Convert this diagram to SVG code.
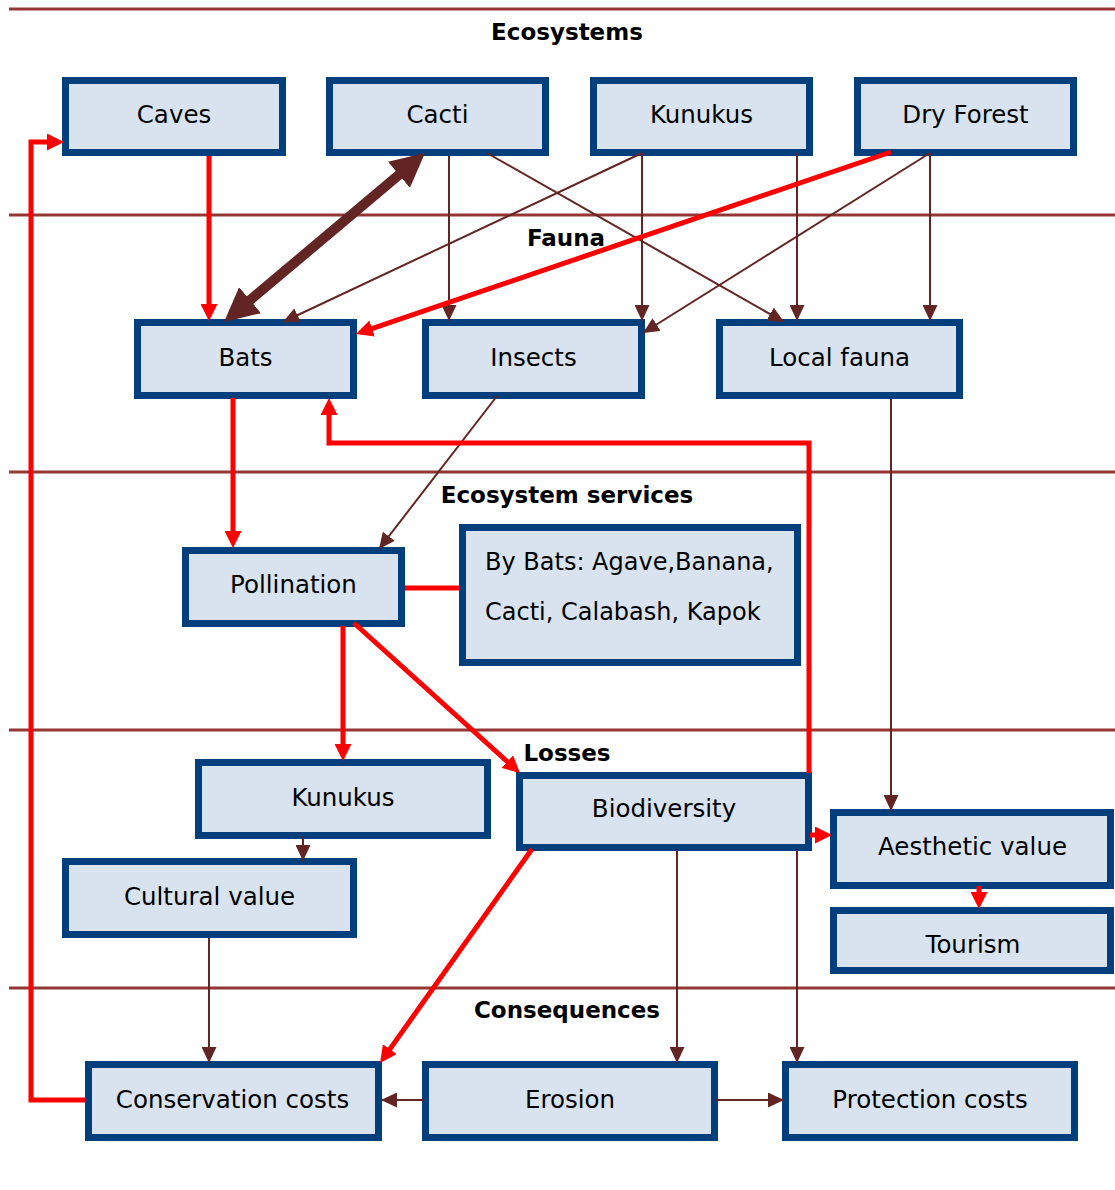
<svg xmlns="http://www.w3.org/2000/svg" width="1115" height="1190" viewBox="0 0 1115 1190">
<style>
.sep{stroke:#943634;stroke-width:3;fill:none}
.sec{font-family:"DejaVu Sans","Liberation Sans",sans-serif;font-size:23px;font-weight:bold;fill:#000;text-anchor:middle}
.box{fill:#D8E3EF;stroke:#023F7C;stroke-width:7}
.lbl{font-family:"DejaVu Sans","Liberation Sans",sans-serif;font-size:24.5px;fill:#000;text-anchor:middle}
.lbl2{font-family:"DejaVu Sans","Liberation Sans",sans-serif;font-size:24px;fill:#000}
.br{stroke:#632523;stroke-width:2;fill:none;marker-end:url(#ab)}
.rd{stroke:#FF0000;stroke-width:5;fill:none;marker-end:url(#ar)}
.rdn{stroke:#FF0000;stroke-width:5;fill:none}
.thick{stroke:#632523;stroke-width:10;fill:none;marker-start:url(#at);marker-end:url(#at)}
</style>
<defs>
<marker id="ab" markerUnits="userSpaceOnUse" markerWidth="16" markerHeight="15" refX="16" refY="7.5" orient="auto"><path d="M0,0 L16,7.5 L0,15 z" fill="#632523"/></marker>
<marker id="ar" markerUnits="userSpaceOnUse" markerWidth="17" markerHeight="17" refX="11" refY="8.5" orient="auto"><path d="M0,0 L17,8.5 L0,17 z" fill="#FF0000"/></marker>
<marker id="at" markerUnits="userSpaceOnUse" markerWidth="34" markerHeight="34" refX="22" refY="17" orient="auto-start-reverse"><path d="M0,0 L34,17 L0,34 z" fill="#632523"/></marker>
</defs>
<rect width="1115" height="1190" fill="#fff"/>
<g id="separators">
<line class="sep" x1="9" y1="9" x2="1115" y2="9"/>
<line class="sep" x1="9" y1="215" x2="1115" y2="215"/>
<line class="sep" x1="9" y1="472" x2="1115" y2="472"/>
<line class="sep" x1="9" y1="730" x2="1115" y2="730"/>
<line class="sep" x1="9" y1="988" x2="1115" y2="988"/>
</g>
<g id="sections">
<text class="sec" x="567" y="40">Ecosystems</text>
<text class="sec" x="566" y="246">Fauna</text>
<text class="sec" x="567" y="503">Ecosystem services</text>
<text class="sec" x="567" y="761">Losses</text>
<text class="sec" x="567" y="1018">Consequences</text>
</g>
<g id="n-caves"><rect class="box" x="65.5" y="80.5" width="217" height="72"/><text class="lbl" x="174" y="123">Caves</text></g>
<g id="n-cacti"><rect class="box" x="329.5" y="80.5" width="216" height="72"/><text class="lbl" x="437.5" y="123">Cacti</text></g>
<g id="n-kunukus"><rect class="box" x="593.5" y="80.5" width="216" height="72"/><text class="lbl" x="701.5" y="123">Kunukus</text></g>
<g id="n-dryforest"><rect class="box" x="857.5" y="80.5" width="216" height="72"/><text class="lbl" x="965.5" y="123">Dry Forest</text></g>
<g id="n-bats"><rect class="box" x="137.5" y="322.5" width="216" height="73"/><text class="lbl" x="245.5" y="366">Bats</text></g>
<g id="n-insects"><rect class="box" x="425.5" y="322.5" width="216" height="73"/><text class="lbl" x="533.5" y="366">Insects</text></g>
<g id="n-localfauna"><rect class="box" x="719.5" y="322.5" width="240" height="73"/><text class="lbl" x="839.5" y="366">Local fauna</text></g>
<g id="n-pollination"><rect class="box" x="185.5" y="550.5" width="216" height="73"/><text class="lbl" x="293.5" y="593">Pollination</text></g>
<g id="n-bybats"><rect class="box" x="462.5" y="527.5" width="335" height="135"/><text class="lbl2" x="485" y="570">By Bats: Agave,Banana,</text><text class="lbl2" x="485" y="620">Cacti, Calabash, Kapok</text></g>
<g id="n-kunukus2"><rect class="box" x="198.5" y="762.5" width="289" height="73"/><text class="lbl" x="343" y="806">Kunukus</text></g>
<g id="n-cultural"><rect class="box" x="65.5" y="861.5" width="288" height="73"/><text class="lbl" x="209.5" y="905">Cultural value</text></g>
<g id="n-biodiversity"><rect class="box" x="519.5" y="775.5" width="289" height="72"/><text class="lbl" x="664" y="817">Biodiversity</text></g>
<g id="n-aesthetic"><rect class="box" x="833.5" y="812.5" width="277" height="73"/><text class="lbl" x="972.5" y="855">Aesthetic value</text></g>
<g id="n-tourism"><rect class="box" x="833.5" y="910.5" width="277" height="60"/><text class="lbl" x="973" y="953">Tourism</text></g>
<g id="n-conservation"><rect class="box" x="88.5" y="1064.5" width="290" height="73"/><text class="lbl" x="232.5" y="1108">Conservation costs</text></g>
<g id="n-erosion"><rect class="box" x="425.5" y="1064.5" width="289" height="73"/><text class="lbl" x="570" y="1108">Erosion</text></g>
<g id="n-protection"><rect class="box" x="785.5" y="1064.5" width="289" height="73"/><text class="lbl" x="930" y="1108">Protection costs</text></g>
<g id="connectors">
<line class="br" x1="449" y1="156" x2="449" y2="321"/>
<line class="br" x1="487" y1="153" x2="784" y2="322"/>
<line class="br" x1="642" y1="153" x2="283" y2="322"/>
<line class="br" x1="642" y1="153" x2="642" y2="321"/>
<line class="br" x1="797" y1="153" x2="797" y2="321"/>
<line class="br" x1="930" y1="153" x2="643" y2="333"/>
<line class="br" x1="930" y1="153" x2="930" y2="321"/>
<line class="br" x1="497" y1="396" x2="379" y2="549"/>
<line class="br" x1="303" y1="837" x2="303" y2="861"/>
<line class="br" x1="891" y1="399" x2="891" y2="811"/>
<line class="br" x1="209" y1="938" x2="209" y2="1063"/>
<line class="br" x1="677" y1="850" x2="677" y2="1063"/>
<line class="br" x1="797" y1="850" x2="797" y2="1063"/>
<line class="br" x1="424" y1="1100" x2="381" y2="1100"/>
<line class="br" x1="716" y1="1100" x2="784" y2="1100"/>
<line class="thick" x1="415.8" y1="160.7" x2="233.2" y2="314.3"/>
<line class="rd" x1="209" y1="156" x2="209" y2="315"/>
<line class="rd" x1="891" y1="152" x2="361.7" y2="332.1"/>
<line class="rd" x1="233" y1="398" x2="233" y2="542"/>
<polyline class="rd" points="809,773 809,443 329,443 329,404"/>
<line class="rdn" x1="405" y1="588" x2="460" y2="588"/>
<line class="rd" x1="343" y1="626" x2="343" y2="755"/>
<line class="rd" x1="354" y1="623" x2="515.5" y2="769"/>
<line class="rd" x1="810" y1="835" x2="826" y2="835"/>
<line class="rd" x1="979" y1="886" x2="979" y2="903"/>
<line class="rd" x1="532" y1="849" x2="383.5" y2="1058.1"/>
<polyline class="rd" points="86,1100 31,1100 31,142 58,142"/>
</g>
</svg>
